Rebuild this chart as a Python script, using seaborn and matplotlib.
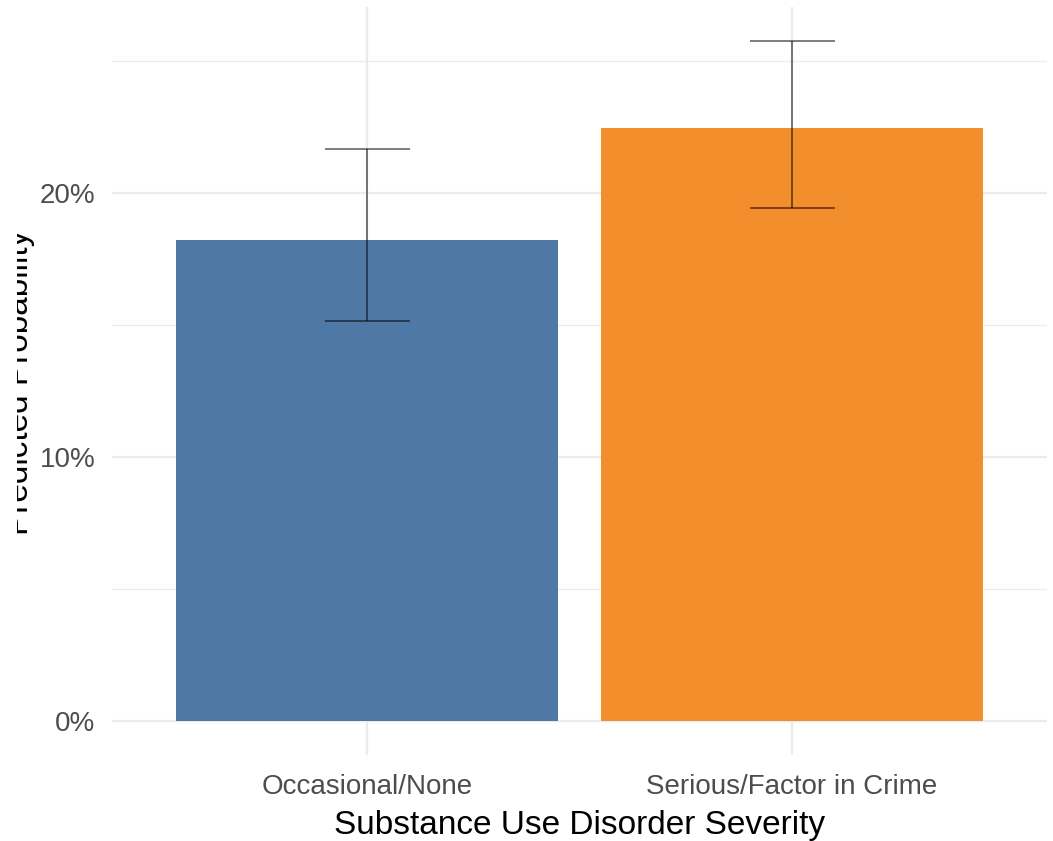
import matplotlib
matplotlib.use("Agg")
import matplotlib.pyplot as plt
import matplotlib.patches as mpatches
from matplotlib.ticker import FixedLocator, FuncFormatter
import seaborn as sns
import pandas as pd

categories = ["Occasional/None", "Serious/Factor in Crime"]
predicted = [0.1822, 0.2246]
lower_ci = [0.1515, 0.1943]
upper_ci = [0.2167, 0.2576]
bar_colors = ["#4E79A7", "#F28E2B"]
y_ticks = [0.0, 0.1, 0.2]
y_minor = [0.05, 0.15, 0.25]

df = pd.DataFrame({"severity": categories, "prob": predicted,
                   "lo": lower_ci, "hi": upper_ci})

sns.set_theme(style="white")
plt.rcParams["font.family"] = ["Liberation Sans", "DejaVu Sans"]

W, H = 1053, 841
fig = plt.figure(figsize=(W / 100, H / 100), dpi=100)
ax = fig.add_axes([112 / W, 1 - 755 / H, (1047 - 112) / W, (755 - 7) / H])

sns.barplot(data=df, x="severity", y="prob", hue="severity",
            palette=bar_colors, width=0.9, errorbar=None, legend=False,
            saturation=1, ax=ax, zorder=2)
for p in ax.patches:
    p.set_edgecolor("none")

xs = list(range(len(categories)))
ax.vlines(xs, df["lo"], df["hi"], color="black", alpha=0.6, lw=1.2, zorder=3)
ax.hlines(df["lo"], [x - 0.1 for x in xs], [x + 0.1 for x in xs],
          color="black", alpha=0.6, lw=1.2, zorder=3)
ax.hlines(df["hi"], [x - 0.1 for x in xs], [x + 0.1 for x in xs],
          color="black", alpha=0.6, lw=1.2, zorder=3)

ax.set_xlim(-0.6, 1.6)
ax.set_ylim(-0.0129, 0.2705)
ax.yaxis.set_major_locator(FixedLocator(y_ticks))
ax.yaxis.set_minor_locator(FixedLocator(y_minor))
ax.yaxis.set_major_formatter(FuncFormatter(lambda v, _: f"{v*100:.0f}%"))

ax.grid(which="major", axis="both", color="#EBEBEB", lw=1.6, zorder=0)
ax.grid(which="minor", axis="y", color="#EBEBEB", lw=0.9, zorder=0)
ax.set_axisbelow(True)
for s in ax.spines.values():
    s.set_visible(False)

ax.tick_params(axis="both", which="both", length=0, labelsize=20,
               labelcolor="#4D4D4D")
ax.tick_params(axis="y", pad=12)
ax.tick_params(axis="x", pad=14)

ax.set_xlabel("Substance Use Disorder Severity", fontsize=24, color="black",
              labelpad=7)
ax.set_ylabel("")

fig.text(28 / W, 1 - 382 / H, "Predicted Probability", rotation=90,
         rotation_mode="anchor", ha="center", va="baseline",
         fontsize=24, color="black")
fig.patches.append(mpatches.Rectangle((0, 0), 17 / W, 1, transform=fig.transFigure,
                                      facecolor="white", edgecolor="none",
                                      zorder=10))

fig.savefig("out.png", dpi=100, facecolor="white")
